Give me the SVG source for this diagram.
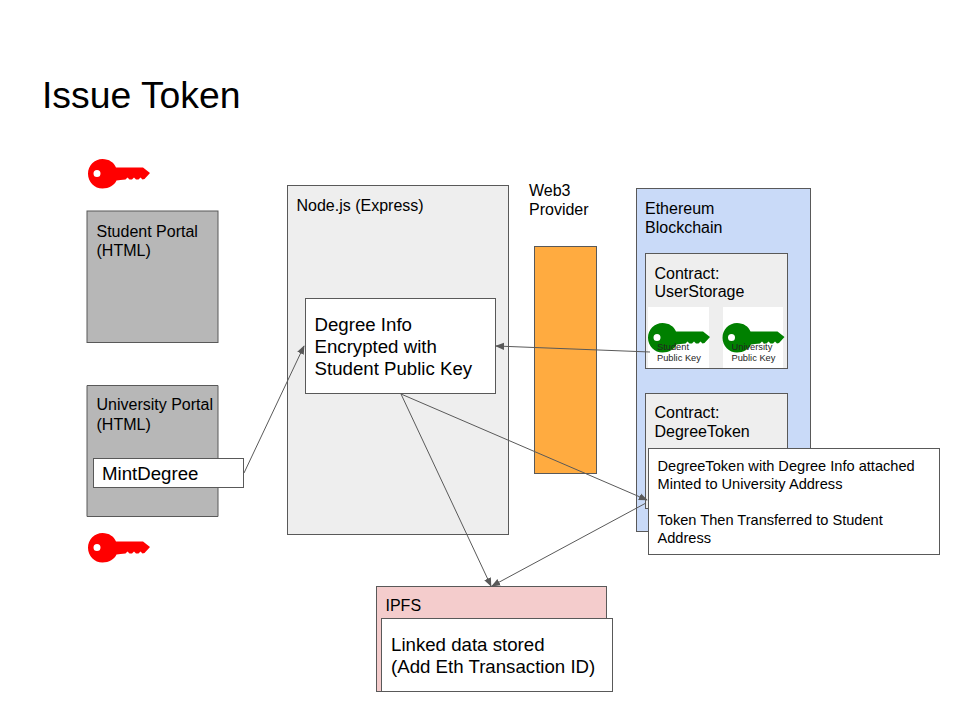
<svg xmlns="http://www.w3.org/2000/svg" width="960" height="720" viewBox="0 0 960 720">
<style>
text{font-family:"Liberation Sans",Arial,sans-serif;fill:#000}
.b{stroke:#595959;stroke-width:1}
.t14{font-size:16px}
.t18{font-size:18.67px}
.t13{font-size:14.6px}
.t9{font-size:9.3px;fill:#222}
.c{fill:none;stroke:#595959;stroke-width:1;marker-end:url(#a)}
</style>
<defs>
<marker id="a" viewBox="0 0 10 10" refX="9" refY="5" markerWidth="9" markerHeight="9" orient="auto-start-reverse" markerUnits="userSpaceOnUse"><path d="M0 1L10 5L0 9Z" fill="#595959"/></marker>
<path id="key" fill-rule="evenodd" d="M0 0C6.500 0 11.500 3.500 13.500 8.500L40.500 8.500L47.500 14L42 20L40 20.500L38 18.500L36 20.500L33.500 20.500L31.500 18.500L29.500 20.500L27 20.500L25 18.500L23 20.500L18 21L14 21.500C12 26 6.500 29.500 0 29.500C-8 29.500 -14.500 23 -14.500 14.700C-14.500 6.500 -8 0 0 0ZM-5.500 11A3.500 3.500 0 1 0 -5.500 18A3.500 3.500 0 1 0 -5.500 11Z"/>
</defs>
<rect width="960" height="720" fill="#fff"/>
<text x="42" y="108" font-size="37.330">Issue Token</text>

<g id="student-key"><use href="#key" x="102.500" y="159" fill="#f00"/></g>
<g id="student-portal"><rect class="b" x="87" y="211" width="131" height="131.500" fill="#b7b7b7"/>
<text class="t14" x="96.500" y="236.500">Student Portal</text><text class="t14" x="96.500" y="255.500">(HTML)</text></g>

<g id="university-portal"><path class="b" d="M87 516.500V385.500H218V516.500Z" fill="#b7b7b7"/>
<text class="t14" x="96.500" y="409.500">University Portal</text><text class="t14" x="96.500" y="429.500">(HTML)</text></g>
<g id="university-key"><use href="#key" x="102.500" y="533" fill="#f00"/></g>
<g id="mint-degree"><rect class="b" x="93.500" y="458.500" width="150" height="29" fill="#fff"/>
<text class="t18" x="102" y="480">MintDegree</text></g>

<g id="node-express"><rect class="b" x="287.500" y="185.500" width="221" height="349" fill="#eee"/>
<text class="t14" x="296.500" y="210.500">Node.js (Express)</text></g>
<g id="degree-info"><rect class="b" x="305.500" y="298.500" width="190" height="95" fill="#fff"/>
<text class="t18" x="314.500" y="331">Degree Info</text><text class="t18" x="314.500" y="353">Encrypted with</text><text class="t18" x="314.500" y="375">Student Public Key</text></g>

<g id="web3-provider"><text class="t14" x="529" y="195.500">Web3</text><text class="t14" x="529" y="215">Provider</text>
<rect class="b" x="534.500" y="246.500" width="62" height="227" fill="#ffab40"/></g>

<g id="ethereum"><rect class="b" x="636.500" y="188.500" width="174" height="343" fill="#c9daf8"/>
<text class="t14" x="645" y="213.500">Ethereum</text><text class="t14" x="645" y="232.500">Blockchain</text></g>
<g id="user-storage"><rect class="b" x="645.500" y="253.500" width="142" height="115" fill="#eee"/>
<text class="t14" x="654.500" y="278.500">Contract:</text><text class="t14" x="654.500" y="297">UserStorage</text>
<rect x="648" y="307" width="61" height="61" fill="#fff"/><rect x="723" y="307" width="60" height="61" fill="#fff"/>
<use href="#key" x="662.500" y="323" fill="#008000"/><use href="#key" x="737" y="323" fill="#008000"/>
<text class="t9" x="657" y="349.500">Student</text><text class="t9" x="657" y="360.500">Public Key</text>
<text class="t9" x="731.500" y="349.500">University</text><text class="t9" x="731.500" y="360.500">Public Key</text></g>
<g id="degree-token"><rect class="b" x="645.500" y="393.500" width="142" height="115" fill="#eee"/>
<text class="t14" x="654.500" y="417.500">Contract:</text><text class="t14" x="654.500" y="437">DegreeToken</text></g>
<g id="token-note"><rect class="b" x="648.500" y="448.500" width="291" height="106" fill="#fff"/>
<text class="t13" x="657.500" y="470.500">DegreeToken with Degree Info attached</text><text class="t13" x="657.500" y="488.500">Minted to University Address</text>
<text class="t13" x="657.500" y="524.500">Token Then Transferred to Student</text><text class="t13" x="657.500" y="542.500">Address</text></g>

<g id="ipfs"><rect class="b" x="376.500" y="586.500" width="230" height="105" fill="#f4cccc"/>
<text class="t14" x="385.500" y="610.500">IPFS</text></g>
<g id="linked-data"><rect class="b" x="381.500" y="618.500" width="231" height="73" fill="#fff"/>
<text class="t18" x="391" y="651">Linked data stored</text><text class="t18" x="391" y="673">(Add Eth Transaction ID)</text></g>

<g id="connectors">
<path class="c" d="M244 473L304 346"/>
<path class="c" d="M650 352L496 346"/>
<path class="c" d="M401 394L647 500"/>
<path class="c" d="M401 394L491 586"/>
<path class="c" d="M646 503L492 586"/>
</g>
</svg>
